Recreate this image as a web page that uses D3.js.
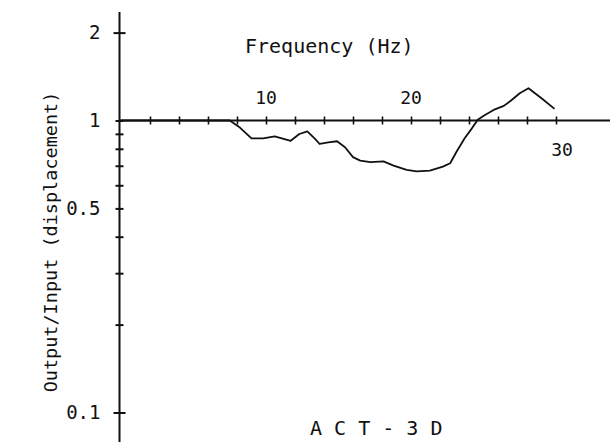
<!DOCTYPE html>
<html>
<head>
<meta charset="utf-8">
<script src="https://cdn.jsdelivr.net/npm/d3@7"></script>
<style>
  body { margin: 0; background: #fff; }
  svg text { font-family: "DejaVu Sans Mono", monospace; fill: #111; }
</style>
</head>
<body>
<div class="container"></div>
<script>
// frequency (Hz) and output/input ratio
const freq  = [0, 7.5, 8.2, 9.0, 9.8, 10.6, 11.7, 12.3, 12.85, 13.4, 13.7, 14.3, 14.9, 15.45, 16.0, 16.5, 17.2, 18.1, 18.8, 19.7, 20.4, 21.3, 22.2, 22.7, 23.15, 23.7, 24.2, 24.6, 25.1, 25.7, 26.4, 26.9, 27.5, 28.1, 29.0, 29.9];
const ratio = [1, 1, 0.946, 0.868, 0.868, 0.882, 0.852, 0.899, 0.918, 0.864, 0.831, 0.842, 0.849, 0.81, 0.749, 0.729, 0.72, 0.724, 0.701, 0.678, 0.67, 0.673, 0.695, 0.714, 0.783, 0.869, 0.94, 1.005, 1.045, 1.087, 1.122, 1.171, 1.24, 1.29, 1.192, 1.096];

const xTicks = [2, 4, 6, 8, 10, 12, 14, 16, 18, 20, 22, 24, 26, 28, 30];
const yTicks = [0.1, 0.2, 0.3, 0.4, 0.5, 0.6, 0.7, 0.8, 0.9, 1, 2];
const yLabels = [0.1, 0.5, 1, 2];
const xLabels = [10, 20, 30];

const width = 610;
const height = 442;

const x = d3.scaleLinear().domain([0, 30]).range([121, 556]);
const y = d3.scaleLog().domain([0.1, 2]).range([412.5, 32.6]);

const svg = d3.select('.container')
              .append('svg')
              .attr('width', width)
              .attr('height', height);

// y axis line + crossing ticks
const yAxis = svg.append('g')
    .attr('transform', `translate(${x(0) - 1.5},0)`)
    .call(d3.axisLeft(y).tickValues(yTicks).tickFormat(d => yLabels.includes(d) ? d : ''));
yAxis.select('.domain').remove();
yAxis.selectAll('.tick line')
    .attr('x1', d => (d === 2 || d === 0.1) ? -6 : -4)
    .attr('x2', d => (d === 2 || d === 0.1) ? 6 : 4)
    .attr('stroke', '#111').attr('stroke-width', 2);
yAxis.selectAll('.tick text')
    .attr('x', -19)
    .style('font-size', '19px');
yAxis.append('line')
    .attr('y1', 12).attr('y2', height)
    .attr('stroke', '#111').attr('stroke-width', 2);

// x axis along ratio = 1
const xAxis = svg.append('g')
    .attr('transform', `translate(0,${y(1)})`)
    .call(d3.axisBottom(x).tickValues(xTicks).tickFormat(''));
xAxis.select('.domain').remove();
xAxis.selectAll('.tick line')
    .attr('y1', -4).attr('y2', 4)
    .attr('stroke', '#111').attr('stroke-width', 1.6);
xAxis.append('line')
    .attr('x1', x(0) - 2).attr('x2', width)
    .attr('stroke', '#111').attr('stroke-width', 2.2);

// x tick labels: 10 and 20 above the axis, 30 below
svg.selectAll('.xlab')
    .data(xLabels)
    .enter().append('text')
    .attr('class', 'xlab')
    .attr('x', d => d === 30 ? x(d) + 6 : x(d))
    .attr('y', d => d === 30 ? 156 : 104)
    .attr('text-anchor', 'middle')
    .style('font-size', '18px')
    .text(d => d);

// curve
const line = d3.line()
    .x(d => x(d[0]))
    .y(d => y(d[1]));
svg.append('path')
    .datum(freq.map((f, i) => [f, ratio[i]]))
    .attr('d', line)
    .attr('fill', 'none')
    .attr('stroke', '#111')
    .attr('stroke-width', 1.8)
    .attr('stroke-linejoin', 'round');

// titles
svg.append('text')
    .attr('x', 245).attr('y', 53)
    .style('font-size', '20px')
    .text('Frequency (Hz)');

svg.append('text')
    .attr('transform', 'translate(57,242) rotate(-90)')
    .attr('text-anchor', 'middle')
    .style('font-size', '18.5px')
    .text('Output/Input (displacement)');

svg.append('text')
    .attr('x', 310).attr('y', 435)
    .style('font-size', '20px')
    .text('A C T - 3 D');
</script>
</body>
</html>
